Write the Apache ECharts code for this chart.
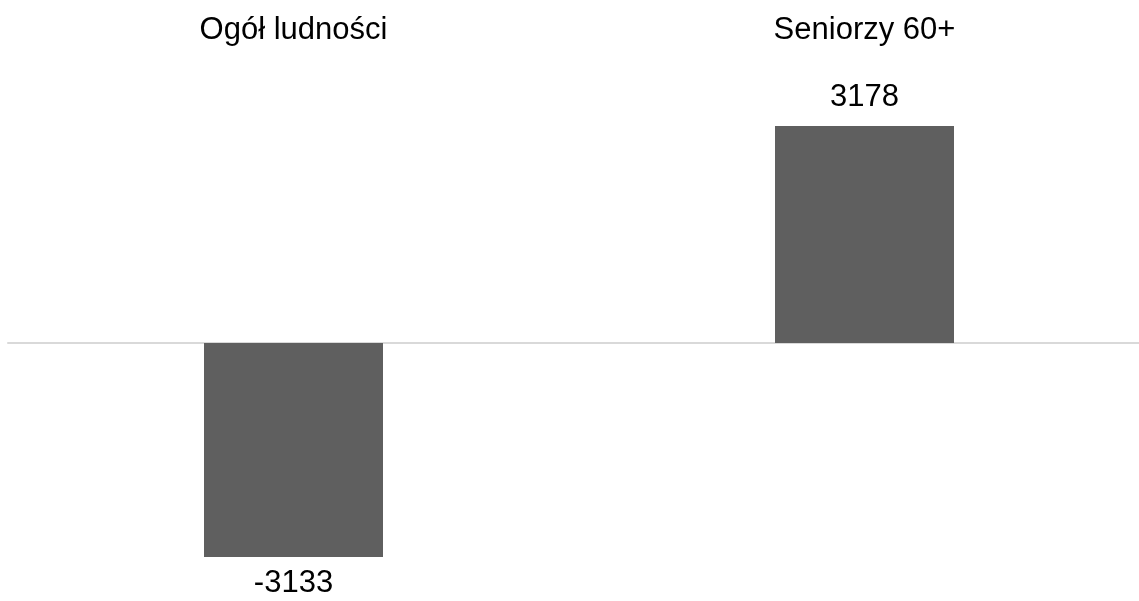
<!DOCTYPE html>
<html>
<head>
<meta charset="utf-8">
<script src="https://cdn.jsdelivr.net/npm/echarts@6/dist/echarts.min.js"></script>
<style>
html, body { margin: 0; padding: 0; background: #fff; }
#chart { width: 1139px; height: 601px; }
</style>
</head>
<body>
<div id="chart"></div>
<script>
var categories = ['Ogół ludności', 'Seniorzy 60+'];
var values = [-3133, 3178];

var myChart = echarts.init(document.getElementById('chart'));
var option = {
	animation: false,
	grid: { left: 8, width: 1142, top: 104, height: 478, outerBoundsMode: 'none', containLabel: false },
	xAxis: [{
		type: 'category',
		data: categories,
		axisLine: { onZero: true, lineStyle: { color: '#d9d9d9', width: 2 } },
		axisTick: { show: false },
		axisLabel: { show: false }
	}, {
		type: 'category',
		data: categories,
		position: 'top',
		axisLine: { show: false },
		axisTick: { show: false },
		axisLabel: { margin: 58, fontSize: 31, color: '#000', fontFamily: 'Liberation Sans' }
	}],
	yAxis: {
		type: 'value',
		min: -3500,
		max: 3500,
		show: false
	},
	series: [{
		type: 'bar',
		barWidth: 179,
		itemStyle: { color: '#5f5f5f' },
		data: values.map(function (v) {
			return {
				value: v,
				label: { position: v < 0 ? 'bottom' : 'top', distance: v < 0 ? 11 : 13 }
			};
		}),
		label: {
			show: true,
			fontSize: 31,
			color: '#000',
			fontFamily: 'Liberation Sans'
		}
	}]
};
myChart.setOption(option);
</script>
</body>
</html>
